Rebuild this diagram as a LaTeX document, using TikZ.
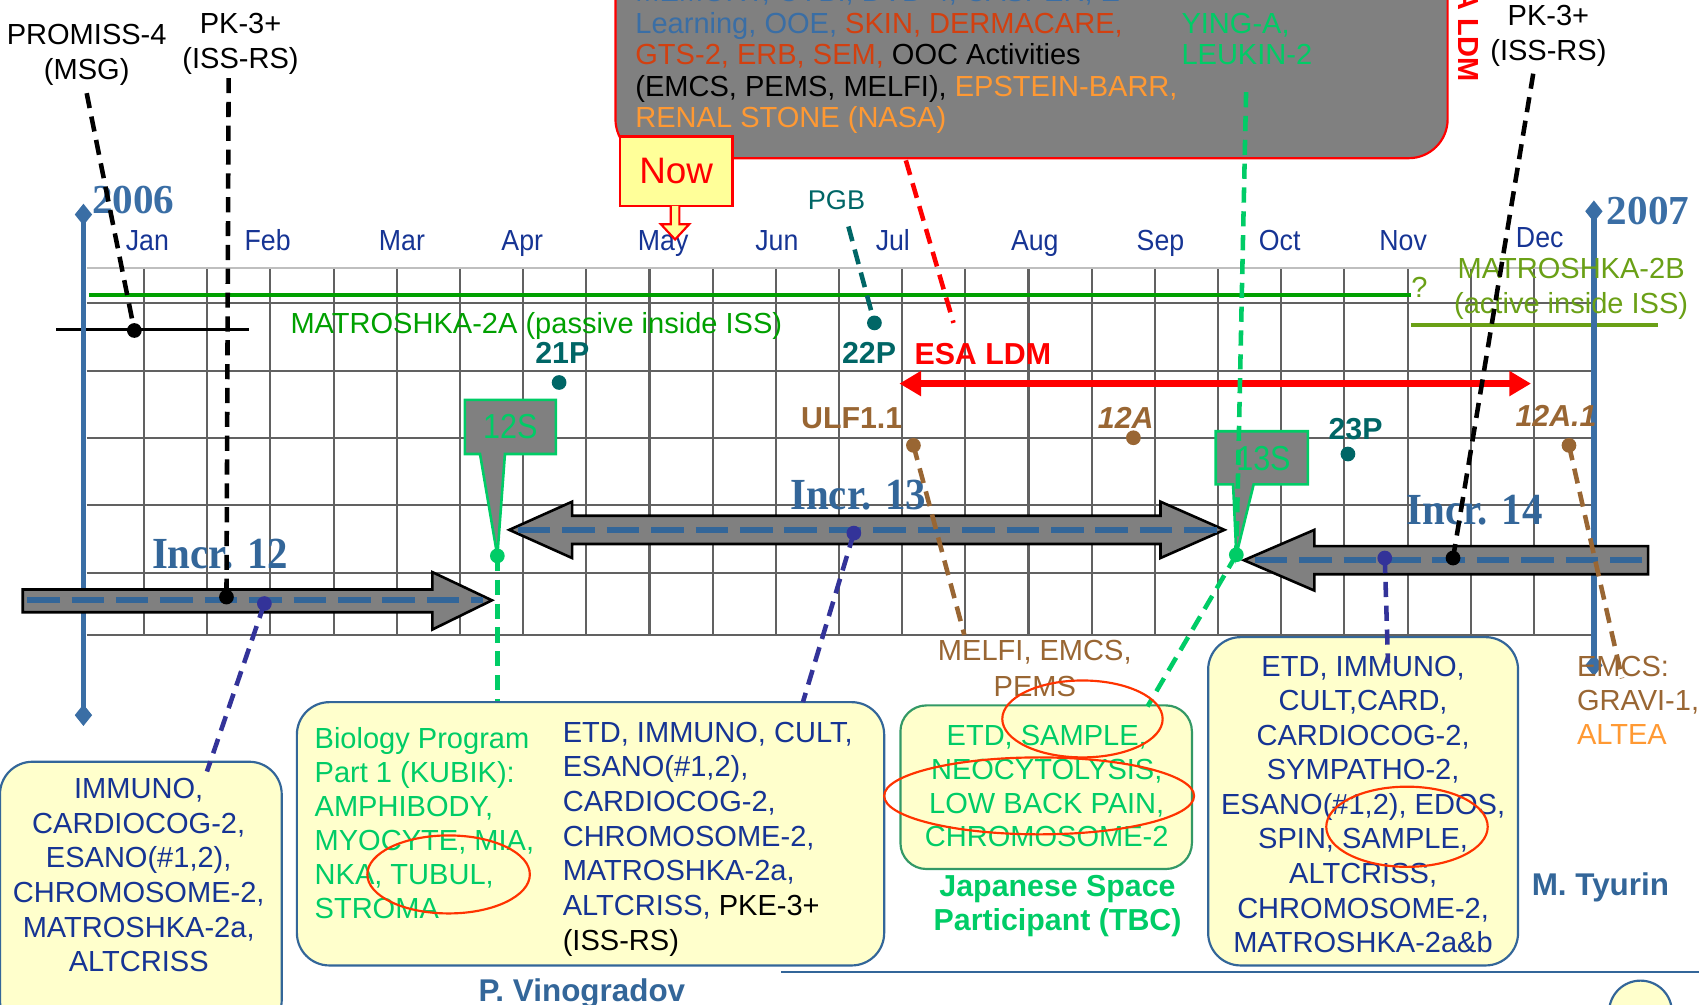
\documentclass[tikz,border=0pt]{standalone}
\usepackage{fontspec}
\setmainfont{Liberation Sans}
\newfontfamily\timesfont{Liberation Serif}
\usepackage{xcolor}
\usetikzlibrary{arrows.meta}

\definecolor{axisblue}{RGB}{58,110,165}
\definecolor{navy}{RGB}{22,52,148}
\definecolor{incrblue}{RGB}{51,102,153}
\definecolor{linegreen}{RGB}{0,160,0}
\definecolor{mtolive}{RGB}{106,160,22}
\definecolor{kgreen}{RGB}{0,204,102}
\definecolor{tealtxt}{RGB}{0,102,102}
\definecolor{brn}{RGB}{153,102,51}
\definecolor{orng}{RGB}{255,153,51}
\definecolor{rust}{RGB}{210,64,16}
\definecolor{dotblue}{RGB}{51,51,153}
\definecolor{boxyellow}{RGB}{255,255,204}
\definecolor{nowyellow}{RGB}{255,255,153}
\definecolor{boxgreen}{RGB}{51,153,102}
\definecolor{ringred}{RGB}{255,51,0}

\begin{document}
\begin{tikzpicture}[x=0.5pt,y=-0.5pt,inner sep=0pt,
    font=\fontsize{13.4}{16}\selectfont,
    gridline/.style={black!62,line width=0.95pt},
    blockarrow/.style={fill=black!50,draw=black,line width=1.2pt,line join=miter},
    incrdash/.style={incrblue,line width=2.6pt,dash pattern=on 15pt off 5.5pt},
    blkdash/.style={black,line width=2.1pt,dash pattern=on 7pt off 4pt},
    tealdash/.style={tealtxt,line width=2.1pt,dash pattern=on 7pt off 4pt},
    reddash/.style={red,line width=2.1pt,dash pattern=on 7pt off 4pt},
    grndash/.style={kgreen,line width=2.1pt,dash pattern=on 7pt off 4pt},
    brndash/.style={brn,line width=2.1pt,dash pattern=on 7pt off 4pt},
    bluedash/.style={dotblue,line width=2.1pt,dash pattern=on 7pt off 4pt},
    dot/.style={circle,fill,minimum size=6.8pt},
    callout/.style={fill=black!50,draw=kgreen,line width=1.2pt},
    ybox/.style={draw=incrblue,fill=boxyellow,line width=1pt,rounded corners=15pt},
    ring/.style={ringred,line width=1pt},
    mon/.style={text=navy,anchor=base},
    yearlbl/.style={text=axisblue,font=\timesfont\bfseries\fontsize{19}{20}\selectfont},
    incrlbl/.style={text=incrblue,font=\timesfont\bfseries\fontsize{20.5}{22}\selectfont},
    boldlbl/.style={anchor=base,font=\bfseries\fontsize{14}{16}\selectfont},
    ]
\useasboundingbox (0,0) rectangle (1568,927);

% grid
\foreach \i in {0,...,22}
  \draw[gridline] ({133+58.3*\i},247) -- ({133+58.3*\i},586);
\foreach \y in {280,342,404,466,529,586}
  \draw[gridline] (80,\y) -- (1470,\y);
\draw[black!25,line width=0.9pt] (80,247) -- (1470,247);

\draw[linegreen,line width=1.8pt] (82,272) -- (1302,272);
\draw[mtolive,line width=1.8pt] (1302,300) -- (1530,300);
\draw[black,line width=1.3pt] (52,304) -- (230,304);

\draw[axisblue,line width=2.4pt,{Diamond[length=10pt,width=8pt]}-{Diamond[length=10pt,width=8pt]}] (77,188) -- (77,670);
\draw[axisblue,line width=2.4pt,{Diamond[length=10pt,width=8pt]}-{Diamond[length=10pt,width=8pt]}] (1471,185) -- (1471,624);

\node[yearlbl] (y2006) at (123,185) {2006};
\node[yearlbl] (y2007) at (1521,195) {2007};
\foreach \m/\x/\y in {Jan/136/231,Feb/247/231,Mar/371/231,Apr/482/231,May/612/231,Jun/717/231,
    Jul/824/231,Aug/955/231,Sep/1071/231,Oct/1181/231,Nov/1295/231,Dec/1421/228}
  \node[mon] (\m) at (\x,\y) {\scalebox{.92}[1]{\m}};

% experiment box at the top
\filldraw[fill=black!50,draw=red,line width=1pt,rounded corners=18pt] (568,-60) rectangle (1336,146);
\node[anchor=north west,align=left,font=\fontsize{13.4}{14.5}\selectfont] (eulist) at (586,-17.5)
  {\textcolor{axisblue}{MEMORY, CYBI, DVD-4, CASPER, E-}\\
   \textcolor{axisblue}{Learning, OOE,} \textcolor{rust}{SKIN, DERMACARE,}\\
   \textcolor{rust}{GTS-2, ERB, SEM,} OOC Activities\\
   (EMCS, PEMS, MELFI), \textcolor{orng}{EPSTEIN-BARR,}\\
   \textcolor{orng}{RENAL STONE (NASA)}};
\node[anchor=north west,align=left,text=kgreen,font=\fontsize{13.4}{14.5}\selectfont] (ying) at (1090,11.6)
  {YING-A,\\LEUKIN-2};
\node[text=red,font=\bfseries\fontsize{13.4}{16}\selectfont,rotate=-90,anchor=east] (ldm) at (1355,76) {ESA LDM};

\node[anchor=north,align=center] (promiss) at (80,21.8) {PROMISS-4\\(MSG)};
\node[anchor=north,align=center] (pkleft) at (222,11.8) {PK-3+\\(ISS-RS)};
\node[anchor=north,align=center] (pkright) at (1429,4.8) {PK-3+\\(ISS-RS)};

% increment arrows
\filldraw[blockarrow] (21,544) -- (399,544) -- (399,528) -- (454,554) -- (399,581) -- (399,565) -- (21,565) -- cycle;
\draw[incrdash] (25,554) -- (446,554);
\filldraw[blockarrow] (470,489) -- (528,463) -- (528,476) -- (1071,476) -- (1071,463) -- (1130,489)
  -- (1071,515) -- (1071,502) -- (528,502) -- (528,515) -- cycle;
\draw[incrdash] (478,489) -- (1124,489);
\filldraw[blockarrow] (1148,517) -- (1213,489) -- (1213,504) -- (1521,504) -- (1521,530) -- (1213,530)
  -- (1213,545) -- cycle;
\draw[incrdash] (1158,517) -- (1515,517);

\node[incrlbl] (incr12) at (203,511) {\scalebox{.92}[1]{Incr. 12}};
\node[incrlbl] (incr13) at (792,457) {\scalebox{.92}[1]{Incr. 13}};
\node[incrlbl] (incr14) at (1361,471) {\scalebox{.92}[1]{Incr. 14}};

% flights
\draw[red,line width=3pt,{Triangle[length=10pt,width=11pt]}-{Triangle[length=10pt,width=11pt]}] (830,354) -- (1413,354);

\node[boldlbl,text=tealtxt] (f21p) at (519,335.5) {21P};
\node[boldlbl,text=tealtxt] (f22p) at (802,335.5) {22P};
\node[boldlbl,text=red] (esaldm) at (907,336) {ESA LDM};
\node[boldlbl,text=brn] (ulf) at (786,395) {ULF1.1};
\node[boldlbl,text=brn,font=\bfseries\itshape\fontsize{14}{16}\selectfont] (f12a) at (1039,395) {12A};
\node[boldlbl,text=tealtxt] (f23p) at (1251,405.5) {23P};
\node[boldlbl,text=brn,font=\bfseries\itshape\fontsize{14}{16}\selectfont] (f12a1) at (1436,394) {12A.1};
\node[anchor=base,text=tealtxt,font=\fontsize{12.5}{15}\selectfont] (pgb) at (772,193) {PGB};

\node[dot,tealtxt] (d21p) at (516,353) {};
\node[dot,tealtxt] (dpgb) at (807,298) {};
\node[dot,brn] (dulf) at (843,411) {};
\node[dot,brn] (d12a) at (1046,404) {};
\node[dot,tealtxt] (d23p) at (1244,419) {};
\node[dot,brn] (d12a1) at (1448,411) {};
\node[dot,black] (dpromiss) at (124,305) {};
\node[dot,black] (dpkl) at (209,551) {};
\node[dot,dotblue] (dinc12) at (244,557) {};
\node[dot,dotblue] (dinc13) at (788,492) {};
\node[dot,dotblue] (dinc14) at (1278,515) {};
\node[dot,black] (dpkr) at (1341,515) {};

% soyuz callouts
\filldraw[callout] (429,369) -- (513,369) -- (513,419) -- (466,419) -- (459,513) -- (443,419) -- (429,419) -- cycle;
\filldraw[callout] (1122,398) -- (1207,398) -- (1207,447) -- (1157,447) -- (1141,512) -- (1138,447) -- (1122,447) -- cycle;
\node[text=kgreen,font=\fontsize{16}{18}\selectfont] (s12) at (471,394) {\scalebox{.88}[1]{12S}};
\node[text=kgreen,font=\fontsize{16}{18}\selectfont] (s13) at (1166,423) {\scalebox{.88}[1]{13S}};
\node[dot,kgreen] (d12s) at (459,513) {};
\node[dot,kgreen] (d13s) at (1141,512) {};

\node[anchor=base,text=mtolive] (qmark) at (1310,275) {?};
\node[anchor=base,text=linegreen] (m2a) at (495,308) {MATROSHKA-2A (passive inside ISS)};
\node[anchor=north,align=center,text=mtolive] (m2b) at (1450,237.8) {MATROSHKA-2B\\(active inside ISS)};

% now marker
\node[draw=red,fill=nowyellow,line width=1pt,minimum width=52pt,minimum height=32pt,text=red,
  font=\fontsize{17}{20}\selectfont] (now) at (624,158) {Now};
\filldraw[fill=nowyellow,draw=red,line width=1pt] (619,190) -- (619,207) -- (610,207) -- (623,221)
  -- (636,207) -- (627,207) -- (627,190);

% crew boxes
\node[ybox,minimum width=130pt,minimum height=125pt] (box1) at (130,828) {};
\node[ybox,minimum width=271pt,minimum height=121.5pt] (box2) at (545,769.5) {};
\node[ybox,draw=boxgreen,rounded corners=12pt,minimum width=134.5pt,minimum height=75.5pt] (box3) at (965.5,726.5) {};
\node[ybox,minimum width=143pt,minimum height=151.5pt] (box4) at (1258,739.5) {};

\node[anchor=north,align=center,text=navy] (inc12list) at (128,717.8)
  {IMMUNO,\\CARDIOCOG-2,\\ESANO(\#1,2),\\CHROMOSOME-2,\\MATROSHKA-2a,\\ALTCRISS};
\node[anchor=north west,align=left,text=kgreen,font=\fontsize{13.4}{15.7}\selectfont] (kubik) at (290,670.8)
  {Biology Program\\Part 1 (KUBIK):\\AMPHIBODY,\\MYOCYTE, MIA,\\NKA, TUBUL,\\STROMA};
\node[anchor=north west,align=left,text=navy] (inc13list) at (519,665.8)
  {ETD, IMMUNO, CULT,\\ESANO(\#1,2),\\CARDIOCOG-2,\\CHROMOSOME-2,\\MATROSHKA-2a,\\
   ALTCRISS, \textcolor{black}{PKE-3+}\\\textcolor{black}{(ISS-RS)}};
\node[anchor=north,align=center,text=kgreen,font=\fontsize{13.4}{15.6}\selectfont] (jsplist) at (966,668.8)
  {ETD, SAMPLE,\\NEOCYTOLYSIS,\\LOW BACK PAIN,\\CHROMOSOME-2};
\node[anchor=north,align=center,text=navy,font=\fontsize{13.4}{15.95}\selectfont] (inc14list) at (1258,604.8)
  {ETD, IMMUNO,\\CULT,CARD,\\CARDIOCOG-2,\\SYMPATHO-2,\\ESANO(\#1,2), EDOS,\\SPIN, SAMPLE,\\
   ALTCRISS,\\CHROMOSOME-2,\\MATROSHKA-2a\&b};

\node[anchor=north,align=center,text=brn,font=\fontsize{13.4}{16.5}\selectfont] (melfi) at (955,590.8)
  {MELFI, EMCS,\\PEMS};
\node[anchor=north west,align=left,text=brn,font=\fontsize{13.4}{15.8}\selectfont] (gravi) at (1455,604.8)
  {EMCS:\\GRAVI-1,\\\textcolor{orng}{ALTEA}};
\node[anchor=north,align=center,text=kgreen,font=\bfseries\fontsize{14}{15.5}\selectfont] (jsp) at (976,807.5)
  {Japanese Space\\Participant (TBC)};
\node[boldlbl,text=incrblue,font=\bfseries\fontsize{14.5}{16}\selectfont] (tyurin) at (1477,826) {M. Tyurin};
\node[boldlbl,text=incrblue,font=\bfseries\fontsize{14.5}{16}\selectfont] (vino) at (537,924) {P. Vinogradov};

\draw[incrblue,line width=1.3pt] (721,897) -- (1568,897);
\filldraw[fill=boxyellow,draw=incrblue,line width=1pt] (1514,934) circle (14.5pt);

% connectors
\coordinate (promisstop) at (80,86);
\coordinate (pklefttop) at (211,72);
\coordinate (pkrighttop) at (1415,68);
\coordinate (pgbtop) at (783,209);
\coordinate (ldmtop) at (836,148);
\coordinate (ldmend) at (880,298);
\coordinate (yingtop) at (1150,85);
\coordinate (box1hit) at (191,712);
\coordinate (box2hit) at (741,648);
\coordinate (box3hit) at (1059,652);
\coordinate (box4hit) at (1281,612);
\coordinate (melfitop) at (890,586);
\coordinate (gravitop) at (1497,626);

\draw[blkdash] (promisstop) -- (dpromiss.center);
\draw[blkdash] (pklefttop) -- (dpkl.center);
\draw[blkdash] (pkrighttop) -- (dpkr.center);
\draw[tealdash] (pgbtop) -- (dpgb.center);
\draw[reddash] (ldmtop) -- (ldmend);
\draw[grndash] (yingtop) -- (d13s.center);
\draw[grndash] (d13s.center) -- (box3hit);
\draw[grndash] (d12s.center) -- (d12s |- box2.north);
\draw[bluedash] (dinc12.center) -- (box1hit);
\draw[bluedash] (dinc13.center) -- (box2hit);
\draw[bluedash] (dinc14.center) -- (box4hit);
\draw[brndash] (dulf.center) -- (melfitop);
\draw[brndash] (d12a1.center) -- (gravitop);

\draw[ring] (414,807) ellipse [x radius=37.5pt,y radius=18pt];
\draw[ring] (999,663.5) ellipse [x radius=37pt,y radius=17.75pt];
\draw[ring] (959,734.5) ellipse [x radius=71.5pt,y radius=17.75pt];
\draw[ring] (1298.5,763) ellipse [x radius=37.25pt,y radius=18.5pt];
\end{tikzpicture}
\end{document}
